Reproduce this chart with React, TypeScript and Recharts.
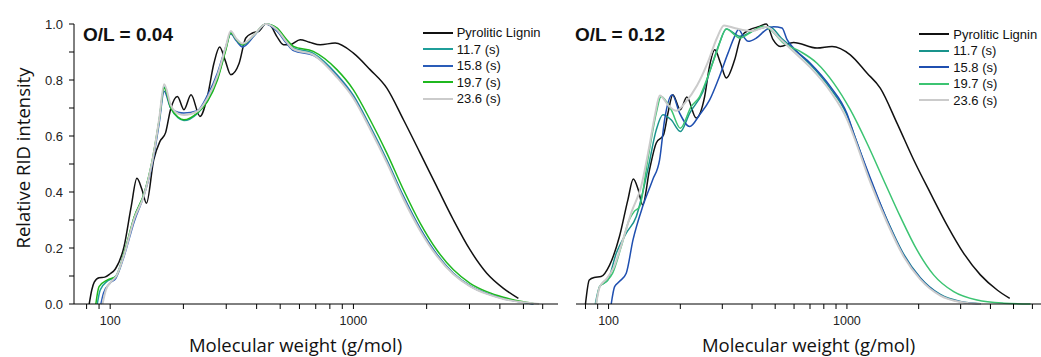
import React from "react";
import { LineChart, Line, XAxis, YAxis, Legend, Label } from "recharts";

// Relative RID intensity vs molecular weight, two O/L ratios side by side.
// Values (log-scaled x).

type Pt = { m: number; v: number };
const pts = (a: number[][]): Pt[] => a.map(([m, v]) => ({ m, v }));

const SERIES_NAMES = ["Pyrolitic Lignin", "11.7 (s)", "15.8 (s)", "19.7 (s)", "23.6 (s)"];
const LEFT_COLORS = ["#111111", "#1f9e9a", "#2a5cb8", "#1fb81f", "#cbcbcb"];
const RIGHT_COLORS = ["#111111", "#19938c", "#1f4fb0", "#3cc472", "#cbcbcb"];

const X_TICKS_LEFT = [80, 90, 100, 200, 300, 400, 500, 600, 700, 800, 900, 1000, 2000, 3000, 4000, 5000, 6000];
const X_TICKS_RIGHT = [80, 90, 100, 200, 300, 400, 500, 600, 700, 800, 900, 1000, 2000, 3000, 4000, 5000, 6000];
const X_LABELED = [100, 1000];
const Y_TICKS = [0, 0.1, 0.2, 0.3, 0.4, 0.5, 0.6, 0.7, 0.8, 0.9, 1.0];
const Y_LABELED = [0, 0.2, 0.4, 0.6, 0.8, 1.0];

// O/L = 0.04
const left_lignin = pts([
  [82, 0], [84, 0.05], [86, 0.078], [90, 0.094], [95, 0.096], [100, 0.108], [105, 0.125], [114, 0.205],
  [122, 0.348], [128.8, 0.449], [135, 0.41], [141, 0.36], [151, 0.515], [160, 0.58], [169, 0.612],
  [177, 0.694], [189, 0.741], [201, 0.694], [215, 0.747], [234, 0.67], [251, 0.741], [267, 0.86],
  [282, 0.918], [297, 0.87], [313, 0.819], [339, 0.86], [361, 0.95], [385, 0.968], [410, 0.975],
  [436, 1.0], [455, 0.995], [484, 0.956], [516, 0.926], [549, 0.926], [604, 0.944], [660, 0.935],
  [730, 0.926], [841, 0.932], [1000, 0.896], [1171, 0.837], [1372, 0.771], [1606, 0.658], [1881, 0.539],
  [2202, 0.419], [2578, 0.3], [3018, 0.193], [3533, 0.11], [4137, 0.056], [4767, 0.02],
]);
const left_117 = pts([
  [88.5, 0], [91, 0.05], [97.5, 0.082], [105.5, 0.1], [114, 0.18], [125.6, 0.31], [138, 0.395], [149, 0.51],
  [159, 0.655], [166.7, 0.775], [177.5, 0.7], [190, 0.665], [201, 0.655], [228, 0.68], [251, 0.725],
  [276, 0.805], [299, 0.912], [313, 0.97], [330, 0.945], [350, 0.925], [391, 0.96], [436, 1.0], [484, 0.985],
  [532, 0.94], [567, 0.915], [684, 0.895], [855, 0.82], [1000, 0.745], [1171, 0.635], [1372, 0.515],
  [1606, 0.385], [1881, 0.27], [2202, 0.178], [2578, 0.11], [3018, 0.066], [3533, 0.039], [4137, 0.02],
  [5000, 0.006], [5500, 0],
]);
const left_158 = pts([
  [91.6, 0], [94, 0.04], [100, 0.075], [105.5, 0.092], [114, 0.17], [125.6, 0.295], [138, 0.39], [149, 0.5],
  [159, 0.645], [166.7, 0.76], [177.5, 0.7], [190, 0.685], [201, 0.682], [228, 0.69], [251, 0.745],
  [276, 0.825], [299, 0.92], [313, 0.965], [330, 0.94], [350, 0.918], [391, 0.958], [436, 1.0], [484, 0.975],
  [532, 0.93], [567, 0.905], [684, 0.888], [855, 0.815], [1000, 0.74], [1171, 0.63], [1372, 0.51],
  [1606, 0.382], [1881, 0.268], [2202, 0.176], [2578, 0.108], [3018, 0.064], [3533, 0.037], [4137, 0.019],
  [5000, 0.006], [5500, 0],
]);
const left_197 = pts([
  [87.3, 0], [90, 0.062], [97.5, 0.086], [105.5, 0.098], [114, 0.181], [125.6, 0.312], [138, 0.396],
  [149, 0.515], [159, 0.658], [166.7, 0.771], [177.5, 0.7], [190, 0.668], [201, 0.658], [228, 0.682],
  [251, 0.723], [276, 0.8], [299, 0.908], [313, 0.968], [330, 0.945], [350, 0.926], [391, 0.962], [436, 1.0],
  [484, 0.986], [532, 0.944], [567, 0.92], [684, 0.902], [855, 0.837], [1000, 0.765], [1171, 0.658],
  [1372, 0.539], [1606, 0.408], [1881, 0.289], [2202, 0.193], [2578, 0.122], [3018, 0.074], [3533, 0.044],
  [4137, 0.024], [5000, 0.008], [5500, 0.002],
]);
const left_236 = pts([
  [93, 0], [96, 0.05], [101, 0.08], [106, 0.1], [114, 0.175], [125.6, 0.305], [138, 0.39], [149, 0.51],
  [159, 0.66], [166.7, 0.785], [177.5, 0.71], [190, 0.68], [201, 0.675], [228, 0.688], [251, 0.735],
  [276, 0.815], [299, 0.92], [313, 0.975], [330, 0.948], [350, 0.93], [391, 0.962], [436, 1.0], [484, 0.98],
  [532, 0.935], [567, 0.91], [684, 0.89], [855, 0.81], [1000, 0.735], [1171, 0.625], [1372, 0.505],
  [1606, 0.375], [1881, 0.262], [2202, 0.172], [2578, 0.106], [3018, 0.063], [3533, 0.036], [4137, 0.018],
  [5000, 0.006], [5800, 0],
]);

// O/L = 0.12
const right_lignin = pts([
  [80, 0], [83, 0.086], [87, 0.095], [93, 0.098], [101, 0.139], [111, 0.24], [120.5, 0.372], [127, 0.446],
  [133, 0.41], [139, 0.354], [148.5, 0.479], [158.5, 0.575], [170, 0.604], [177.5, 0.682], [186, 0.747],
  [200, 0.694], [213, 0.739], [233, 0.664], [253, 0.741], [265, 0.848], [279, 0.908], [295, 0.86],
  [312, 0.807], [338, 0.872], [360, 0.956], [391, 0.98], [425, 0.99], [459, 1.0], [490, 0.944], [525, 0.92],
  [597, 0.934], [749, 0.914], [866, 0.92], [1033, 0.89], [1213, 0.825], [1380, 0.771], [1622, 0.646],
  [1905, 0.515], [2240, 0.396], [2630, 0.282], [3090, 0.181], [3630, 0.104], [4270, 0.05], [4820, 0.02],
]);
const right_117 = pts([
  [88, 0], [91.7, 0.062], [99.4, 0.086], [107.7, 0.181], [118.6, 0.253], [130.6, 0.312], [146, 0.479],
  [158.5, 0.622], [169, 0.676], [183, 0.658], [200, 0.616], [219, 0.682], [249, 0.759], [270, 0.848],
  [292, 0.932], [312, 0.982], [355, 0.956], [417, 0.98], [474, 0.99], [530, 0.95], [600, 0.91], [702, 0.855],
  [851, 0.77], [1000, 0.675], [1067, 0.61], [1253, 0.445], [1472, 0.302], [1730, 0.178], [2032, 0.094],
  [2466, 0.034], [2993, 0.009], [3630, 0.001],
]);
const right_158 = pts([
  [102.6, 0], [106, 0.062], [111, 0.08], [118.6, 0.11], [126.6, 0.229], [139, 0.348], [153, 0.443],
  [163.7, 0.515], [171.8, 0.658], [185, 0.747], [198.6, 0.682], [219, 0.634], [241, 0.676], [265.5, 0.729],
  [288, 0.8], [317, 0.896], [338, 0.956], [351, 0.98], [368, 0.955], [385, 0.938], [417, 0.95], [459, 0.98],
  [492, 0.99], [534, 0.986], [561, 0.944], [597, 0.914], [702, 0.86], [851, 0.777], [1000, 0.68],
  [1067, 0.61], [1253, 0.45], [1472, 0.3], [1730, 0.175], [2032, 0.092], [2466, 0.032], [2993, 0.008],
  [3630, 0],
]);
const right_197 = pts([
  [88.7, 0], [91.7, 0.062], [97.8, 0.08], [104, 0.11], [113, 0.205], [122, 0.3], [128, 0.33], [135, 0.348],
  [146, 0.515], [158.5, 0.682], [166, 0.741], [183, 0.694], [200, 0.628], [222, 0.705], [241, 0.741],
  [261, 0.813], [283, 0.896], [312, 0.982], [355, 0.95], [391, 0.968], [445, 0.992], [477, 0.98], [542, 0.932],
  [637, 0.902], [749, 0.86], [880, 0.789], [1033, 0.694], [1213, 0.575], [1425, 0.443], [1675, 0.312],
  [1967, 0.193], [2310, 0.104], [2805, 0.044], [3517, 0.014], [4550, 0.003], [5890, 0],
]);
const right_236 = pts([
  [88.7, 0], [91.7, 0.06], [98, 0.09], [105, 0.13], [114, 0.22], [125, 0.33], [137, 0.42], [148, 0.56],
  [157, 0.68], [164, 0.745], [178, 0.71], [192, 0.69], [210, 0.72], [235, 0.78], [260, 0.86], [285, 0.95],
  [305, 0.995], [340, 0.985], [400, 0.975], [460, 0.99], [520, 0.95], [600, 0.9], [702, 0.845], [851, 0.76],
  [1000, 0.66], [1067, 0.6], [1253, 0.435], [1472, 0.292], [1730, 0.17], [2032, 0.088], [2466, 0.03],
  [2993, 0.007], [3630, 0],
]);

const LEFT_DATA = [left_lignin, left_117, left_158, left_197, left_236];
const RIGHT_DATA = [right_lignin, right_117, right_158, right_197, right_236];

const SANS = "'Liberation Sans', Arial, sans-serif";
const TITLE_FONT = "'Open Sans', sans-serif";

function LegendBox({ colors }: { colors: string[] }) {
  return (
    <div style={{ fontFamily: SANS, fontSize: 13, color: "#111" }}>
      {SERIES_NAMES.map((n, i) => (
        <div key={n} style={{ display: "flex", alignItems: "center", height: 16.5, whiteSpace: "nowrap" }}>
          <span style={{ width: 30, borderTop: `2px solid ${colors[i]}`, marginRight: 4 }} />
          <span>{n}</span>
        </div>
      ))}
    </div>
  );
}

function Panel(props: {
  width: number;
  margin: { top: number; right: number; bottom: number; left: number };
  domain: [number, number];
  xTicks: number[];
  data: Pt[][];
  colors: string[];
  showY: boolean;
  xTitleX: number;
  legendPos: { left: number; top: number };
}) {
  const { width, margin, domain, xTicks, data, colors, showY, xTitleX, legendPos } = props;
  return (
    <LineChart width={width} height={357} margin={margin}>
      <XAxis
        type="number"
        dataKey="m"
        scale="log"
        domain={domain}
        allowDataOverflow
        ticks={xTicks}
        interval={0}
        tickFormatter={(v: number) => (X_LABELED.includes(v) ? String(v) : "")}
        height={53}
        tickSize={5}
        tickMargin={7}
        axisLine={{ stroke: "#000" }}
        tickLine={{ stroke: "#000" }}
        tick={{ fill: "#222", fontSize: 12.5, fontFamily: SANS }}
      >
        <Label
          content={() => (
            <text x={xTitleX} y={352} textAnchor="middle" fontFamily={TITLE_FONT} fontSize={18.5} fill="#111">
              Molecular weight (g/mol)
            </text>
          )}
        />
      </XAxis>
      <YAxis
        type="number"
        domain={[0, 1]}
        ticks={Y_TICKS}
        interval={0}
        hide={!showY}
        width={showY ? 74 : 0}
        tickFormatter={(v: number) => (Y_LABELED.includes(v) ? v.toFixed(1) : "")}
        tickSize={5}
        tickMargin={6}
        axisLine={{ stroke: "#000" }}
        tickLine={{ stroke: "#000" }}
        tick={{ fill: "#222", fontSize: 13, fontFamily: SANS }}
      >
        {showY && (
          <Label
            content={() => (
              <text
                x={0}
                y={0}
                transform="translate(29.5,158) rotate(-90)"
                textAnchor="middle"
                fontFamily={TITLE_FONT}
                fontSize={18.5}
                fill="#111"
              >
                Relative RID intensity
              </text>
            )}
          />
        )}
      </YAxis>
      <Legend
        layout="vertical"
        align="center"
        verticalAlign="middle"
        wrapperStyle={{ top: legendPos.top, left: legendPos.left, width: 140 }}
        content={() => <LegendBox colors={colors} />}
      />
      {data.map((d, i) => (
        <Line
          key={SERIES_NAMES[i]}
          data={d}
          dataKey="v"
          name={SERIES_NAMES[i]}
          type="monotone"
          stroke={colors[i]}
          strokeWidth={i === 4 ? 2 : 1.5}
          dot={false}
          activeDot={false}
          isAnimationActive={false}
        />
      ))}
    </LineChart>
  );
}

export default function App() {
  const titleStyle: React.CSSProperties = {
    position: "absolute",
    top: 24.6,
    fontFamily: SANS,
    fontWeight: "bold",
    fontSize: 19,
    lineHeight: "19px",
    color: "#111",
    whiteSpace: "nowrap",
  };
  return (
    <div
      style={{
        position: "absolute",
        left: 0,
        top: 0,
        width: 1041,
        height: 357,
        overflow: "hidden",
        background: "#fff",
      }}
    >
      <div style={{ position: "absolute", left: 0, top: 0 }}>
        <Panel
          width={560}
          margin={{ top: 24, right: 2, bottom: 0, left: 0 }}
          domain={[71, 6935]}
          xTicks={X_TICKS_LEFT}
          data={LEFT_DATA}
          colors={LEFT_COLORS}
          showY
          xTitleX={295.5}
          legendPos={{ left: 422.7, top: 24.5 }}
        />
      </div>
      <div style={{ position: "absolute", left: 560, top: 0 }}>
        <Panel
          width={481}
          margin={{ top: 24, right: 0, bottom: 0, left: 16 }}
          domain={[73, 6520]}
          xTicks={X_TICKS_RIGHT}
          data={RIGHT_DATA}
          colors={RIGHT_COLORS}
          showY={false}
          xTitleX={248.5}
          legendPos={{ left: 359.3, top: 26 }}
        />
      </div>
      <div style={{ ...titleStyle, left: 83 }}>O/L = 0.04</div>
      <div style={{ ...titleStyle, left: 575 }}>O/L = 0.12</div>
    </div>
  );
}
